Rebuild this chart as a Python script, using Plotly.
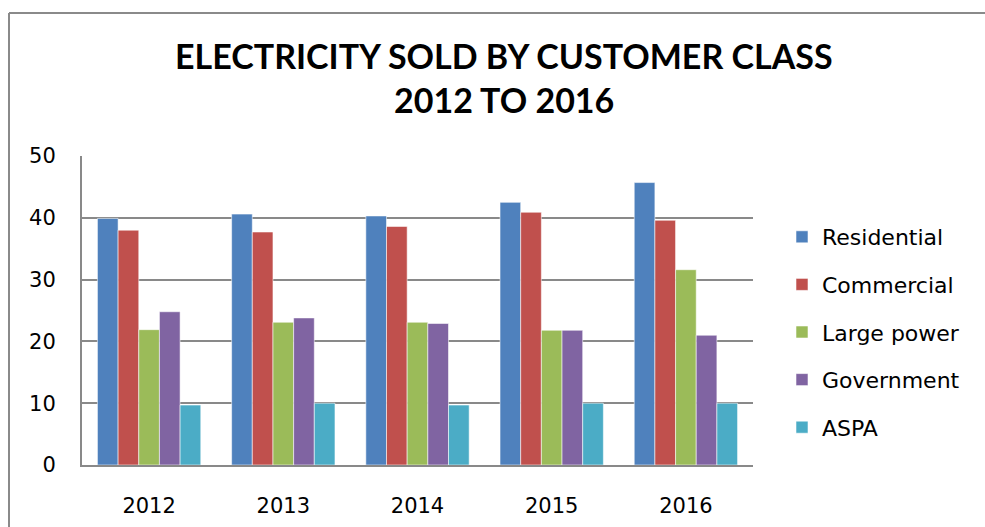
import plotly.graph_objects as go

years = ["2012", "2013", "2014", "2015", "2016"]
series_names = ["Residential", "Commercial", "Large power", "Government", "ASPA"]
residential = [39.9, 40.6, 40.3, 42.5, 45.7]
commercial = [38.0, 37.7, 38.6, 40.9, 39.6]
large_power = [21.9, 23.1, 23.1, 21.8, 31.6]
government = [24.8, 23.8, 22.9, 21.8, 21.0]
aspa = [9.7, 10.0, 9.7, 10.0, 10.0]
y_ticks = [0, 10, 20, 30, 40, 50]
title_lines = ["ELECTRICITY SOLD BY CUSTOMER CLASS", "2012 TO 2016"]

colors = ["#4F81BD", "#C0504D", "#9BBB59", "#8064A2", "#4BACC6"]
all_values = [residential, commercial, large_power, government, aspa]

W, H = 985, 527
L, R, T, B = 82, 232, 156, 62
pw, ph = W - L - R, H - T - B

fig = go.Figure()
for name, vals, col in zip(series_names, all_values, colors):
    fig.add_trace(go.Bar(
        x=years, y=vals, name=name, legendgroup=name,
        marker=dict(color=col, line=dict(color="rgba(255,255,255,0.55)", width=1)),
    ))

def px_x(p):
    return (p - L) / pw

def px_y(p):
    return (H - B - p) / ph

title_font = dict(family="Lato, Liberation Sans, sans-serif", size=34, color="black")
annotations = [
    dict(text="<b>%s</b>" % title_lines[0], xref="paper", yref="paper",
         x=px_x(504), y=px_y(55), xanchor="center", yanchor="middle",
         showarrow=False, font=title_font),
    dict(text="<b>%s</b>" % title_lines[1], xref="paper", yref="paper",
         x=px_x(504), y=px_y(100), xanchor="center", yanchor="middle",
         showarrow=False, font=title_font),
]

fig.update_layout(
    template="none",
    width=W, height=H,
    margin=dict(l=L, r=R, t=T, b=B, autoexpand=False),
    paper_bgcolor="white", plot_bgcolor="white",
    barmode="group", bargap=0.23, bargroupgap=0,
    font=dict(family="DejaVu Sans", size=21, color="black"),
    annotations=annotations,
    xaxis=dict(
        automargin=False,
        showgrid=False, showline=True, linecolor="#898989", linewidth=2,
        ticks="", ticklabelstandoff=21,
        tickfont=dict(family="DejaVu Sans", size=21, color="black"),
    ),
    yaxis=dict(
        automargin=False,
        range=[0, 50], tickvals=y_ticks, showgrid=True, gridcolor="#898989", gridwidth=2,
        showline=True, linecolor="#898989", linewidth=2, zeroline=False,
        ticks="", ticklabelstandoff=20,
        tickfont=dict(family="DejaVu Sans", size=21, color="black"),
    ),
    legend=dict(
        x=px_x(782), xanchor="left", y=px_y(216), yanchor="top",
        font=dict(family="DejaVu Sans", size=22, color="black"),
        tracegroupgap=16, bgcolor="rgba(0,0,0,0)",
    ),
    shapes=[
        dict(type="line", xref="paper", yref="paper",
             x0=px_x(9), x1=px_x(990), y0=px_y(13), y1=px_y(13),
             line=dict(color="#8a8a8a", width=2)),
        dict(type="line", xref="paper", yref="paper",
             x0=px_x(9), x1=px_x(9), y0=px_y(13), y1=px_y(540),
             line=dict(color="#8a8a8a", width=2)),
    ],
)

fig.write_html(
    "out.html",
    config={"displayModeBar": False},
    post_script="document.body.style.margin='0';document.body.style.overflow='hidden';",
)
